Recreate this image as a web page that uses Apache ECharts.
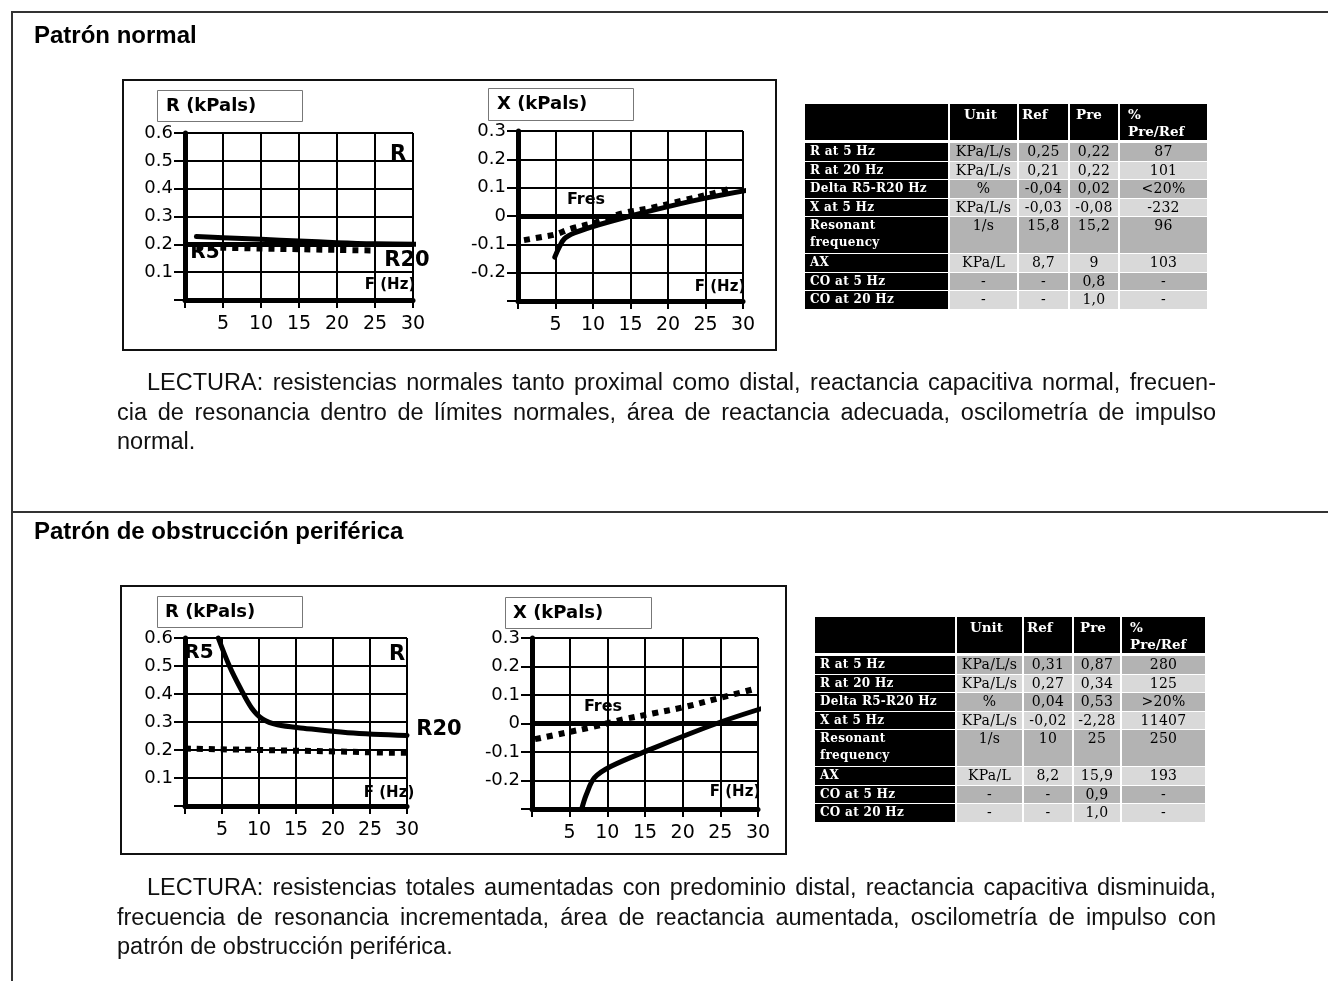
<!DOCTYPE html>
<html><head><meta charset="utf-8">
<script src="https://cdn.jsdelivr.net/npm/echarts@6/dist/echarts.min.js"></script>
<style>
html,body{margin:0;padding:0;background:#fff;}
#page{position:relative;width:1328px;height:981px;overflow:hidden;background:#fff;}
#chart{position:absolute;left:0;top:0;width:1328px;height:981px;}
.hl{position:absolute;background:#333;}
.title{position:absolute;left:34px;font:bold 24px "Liberation Sans",Arial,sans-serif;color:#000;line-height:30px;white-space:nowrap}
.para{position:absolute;left:117px;width:1099px;font:23.5px "Liberation Sans",Arial,sans-serif;color:#111;line-height:29.5px}
.line{display:flex;justify-content:space-between;white-space:nowrap;height:29.5px}
.line.indent{margin-left:30px}
.line.last{display:block}
table.t{position:absolute;border-collapse:separate;border-spacing:2px 1px;table-layout:fixed;font-family:"DejaVu Serif",serif}
table.t th{background:#000;color:#fff;font-weight:bold;font-size:13.5px;text-align:left;vertical-align:top;padding:2px 0 0 0;height:34px;line-height:17px;border-bottom:2px solid #fff;white-space:pre-line}
table.t td.lab{background:#000;color:#fff;font-weight:bold;font-size:12px;letter-spacing:0.3px;padding:0 0 0 5px;text-align:left;white-space:pre-line;line-height:17px;overflow:hidden}
table.t td.v{text-align:center;font-size:14px;letter-spacing:0.3px;color:#000;padding:0;line-height:17px;white-space:nowrap}
table.t tr.r td{height:17.5px;vertical-align:middle}
table.t tr.rr td{height:36px;vertical-align:top}
</style>
</head>
<body>
<div id="page">
  <div id="chart"></div>
  <div class="hl" style="left:11px;top:11px;width:1317px;height:1.5px"></div>
  <div class="hl" style="left:11px;top:11px;width:1.5px;height:970px"></div>
  <div class="hl" style="left:11px;top:511px;width:1317px;height:1.5px"></div>
  <div class="title" style="top:20px">Patrón normal</div>
  <div class="title" style="top:516px">Patrón de obstrucción periférica</div>
  <div class="para" id="p1" style="top:368px"></div>
  <div class="para" id="p2" style="top:873px"></div>
</div>
<script>
// ---------- data ----------
const freqMin = 0, freqMax = 30, freqStep = 5;
const rRange = [0, 0.6];
const xRange = [-0.3, 0.3];

const normalR_solid  = [[1.5,0.228],[5,0.224],[10,0.218],[15,0.212],[20,0.206],[25,0.202],[31,0.2]];
const normalR_dotted = [[1.5,0.19],[10,0.185],[20,0.18],[24.5,0.178]];
const normalR_ref    = [0.2];
const normalX_solid  = [[4.9,-0.145],[5.5,-0.11],[6.2,-0.08],[7.5,-0.06],[10,-0.037],[15,0],[20,0.033],[25,0.063],[31.5,0.095]];
const normalX_dotted = [[0.8,-0.085],[3,-0.075],[5,-0.065],[7,-0.045],[10,-0.025],[14,0.01],[18,0.03],[22,0.055],[26,0.08],[28.7,0.1]];
const normalX_ref    = [0];

const periphR_solid  = [[4.5,0.6],[6,0.5],[7.5,0.42],[9,0.35],[10.5,0.31],[12.5,0.29],[16,0.278],[22,0.262],[30,0.252]];
const periphR_dotted = [[0,0.205],[10,0.2],[20,0.195],[30,0.19],[32,0.19]];
const periphX_solid  = [[6.6,-0.3],[7.2,-0.25],[8.3,-0.19],[10.5,-0.15],[15.8,-0.09],[21,-0.035],[26,0.014],[31.4,0.06]];
const periphX_dotted = [[0.4,-0.055],[4,-0.035],[7.9,-0.013],[12.2,0.015],[16,0.035],[20.1,0.057],[25,0.09],[29.8,0.123]];
const periphX_ref    = [0];

const tableHeader = ['', 'Unit', 'Ref', 'Pre', '%\nPre/Ref'];
const rowLabels = ['R at 5 Hz','R at 20 Hz','Delta R5-R20 Hz','X at 5 Hz','Resonant\nfrequency','AX','CO at 5 Hz','CO at 20 Hz'];
const units     = ['KPa/L/s','KPa/L/s','%','KPa/L/s','1/s','KPa/L','-','-'];
const normalRef = ['0,25','0,21','-0,04','-0,03','15,8','8,7','-','-'];
const normalPre = ['0,22','0,22','0,02','-0,08','15,2','9','0,8','1,0'];
const normalPct = ['87','101','<20%','-232','96','103','-','-'];
const periphRef = ['0,31','0,27','0,04','-0,02','10','8,2','-','-'];
const periphPre = ['0,87','0,34','0,53','-2,28','25','15,9','0,9','1,0'];
const periphPct = ['280','125','>20%','11407','250','193','-','-'];

const para1 = [
  'LECTURA: resistencias normales tanto proximal como distal, reactancia capacitiva normal, frecuen-',
  'cia de resonancia dentro de límites normales, área de reactancia adecuada, oscilometría de impulso',
  'normal.'
];
const para2 = [
  'LECTURA: resistencias totales aumentadas con predominio distal, reactancia capacitiva disminuida,',
  'frecuencia de resonancia incrementada, área de reactancia aumentada, oscilometría de impulso con',
  'patrón de obstrucción periférica.'
];

// ---------- paragraphs ----------
function buildPara(id, lines){
  const el = document.getElementById(id);
  lines.forEach((ln, i) => {
    const d = document.createElement('div');
    d.className = 'line' + (i === 0 ? ' indent' : '') + (i === lines.length - 1 ? ' last' : '');
    if (i === lines.length - 1) { d.textContent = ln; }
    else ln.split(' ').forEach(w => { const s = document.createElement('span'); s.textContent = w; d.appendChild(s); });
    el.appendChild(d);
  });
}
buildPara('p1', para1);
buildPara('p2', para2);

// ---------- tables ----------
function buildTable(left, top, widths, hpad, ref, pre, pct){
  const t = document.createElement('table');
  t.className = 't';
  t.style.left = (left - 2) + 'px';
  t.style.top = (top - 1) + 'px';
  const cg = document.createElement('colgroup');
  widths.forEach(w => { const c = document.createElement('col'); c.style.width = w + 'px'; cg.appendChild(c); });
  t.appendChild(cg);
  const hr = document.createElement('tr');
  tableHeader.forEach((h, j) => { const th = document.createElement('th'); th.textContent = h; th.style.paddingLeft = hpad[j] + 'px'; hr.appendChild(th); });
  t.appendChild(hr);
  rowLabels.forEach((lab, i) => {
    const tr = document.createElement('tr');
    tr.className = lab.indexOf('\n') >= 0 ? 'rr' : 'r';
    const bg = i % 2 === 0 ? '#b3b3b3' : '#d9d9d9';
    const l = document.createElement('td'); l.className = 'lab'; l.textContent = lab; tr.appendChild(l);
    [units[i], ref[i], pre[i], pct[i]].forEach(v => { const td = document.createElement('td'); td.className = 'v'; td.style.background = bg; td.textContent = v; tr.appendChild(td); });
    t.appendChild(tr);
  });
  document.getElementById('page').appendChild(t);
}
buildTable(805, 104, [143,67,49,48,87], [0,14,3,6,8], normalRef, normalPre, normalPct);
buildTable(815, 617, [140,65,48,46,83], [0,13,3,6,8], periphRef, periphPre, periphPct);

// ---------- charts ----------
const grids = [[185,133,228,167],[518,131,225,170],[185,638,222,168],[532,638,226,171]];
function xAx(i){
  return {gridIndex:i,type:'value',min:freqMin,max:freqMax,interval:freqStep,
    axisLine:{show:true,onZero:false,lineStyle:{color:'#000',width:5}},
    axisTick:{show:true,length:8,lineStyle:{color:'#000',width:2}},
    axisLabel:{show:true,color:'#000',fontSize:19,fontFamily:'DejaVu Sans',margin:15,formatter:v=> v===0?'':String(v)},
    splitLine:{show:true,lineStyle:{color:'#000',width:2}}};
}
function yAx(i, rng, hideZero){
  return {gridIndex:i,type:'value',min:rng[0],max:rng[1],interval:0.1,
    axisLine:{show:true,onZero:false,lineStyle:{color:'#000',width:5}},
    axisTick:{show:true,length:11,lineStyle:{color:'#000',width:2}},
    axisLabel:{color:'#000',fontSize:18,fontFamily:'DejaVu Sans',margin:12,formatter:v=>{
      const r = Math.round(v*10)/10;
      if (Math.abs(r - rng[0]) < 1e-6) return '';
      if (r === 0) return hideZero ? '' : '0';
      return r.toFixed(1);
    }},
    splitLine:{show:true,lineStyle:{color:'#000',width:2}}};
}
function ln(i, data, dotted, refs){
  const s = {type:'line',xAxisIndex:i,yAxisIndex:i,data:data,symbol:'none',smooth:0.35,clip:false,silent:true,z:5,
    lineStyle: dotted ? {color:'#000',width:6,type:[6,6],cap:'butt'} : {color:'#000',width:5,cap:'round',join:'round'}};
  if (refs) s.markLine = {silent:true,symbol:['none','none'],label:{show:false},lineStyle:{color:'#000',width:5,type:'solid'},data:refs.map(v=>({yAxis:v}))};
  return s;
}
const bold = s => 'bold ' + s + 'px "DejaVu Sans"';
function txt(t, x, y, size, align){ return {type:'text',x:x,y:y,z:100,style:{text:t,font:bold(size),fill:'#000',align:align||'center',verticalAlign:'middle'}}; }
function box(x, y, w, h){ return {type:'rect',z:90,shape:{x:x,y:y,width:w,height:h},style:{fill:'#fff',stroke:'#777',lineWidth:1}}; }
function frame(x, y, w, h){ return {type:'rect',z:80,shape:{x:x,y:y,width:w,height:h},style:{fill:'none',stroke:'#111',lineWidth:2}}; }

const chart = echarts.init(document.getElementById('chart'), null, {renderer:'canvas'});
chart.setOption({
  animation:false,
  backgroundColor:'#fff',
  grid: grids.map(g=>({left:g[0],top:g[1],width:g[2],height:g[3]})),
  xAxis:[xAx(0),xAx(1),xAx(2),xAx(3)],
  yAxis:[yAx(0,rRange,true),yAx(1,xRange,false),yAx(2,rRange,true),yAx(3,xRange,false)],
  series:[
    ln(0, normalR_solid, false, normalR_ref),
    ln(0, normalR_dotted, true),
    ln(1, normalX_solid, false, normalX_ref),
    ln(1, normalX_dotted, true),
    ln(2, periphR_solid, false),
    ln(2, periphR_dotted, true),
    ln(3, periphX_solid, false, periphX_ref),
    ln(3, periphX_dotted, true)
  ],
  graphic:[
    frame(123,80,653,270),
    frame(121,586,665,268),
    box(157.5,90.5,145,31), txt('R (kPals)',166,106,18,'left'),
    box(488.5,88.5,145,32), txt('X (kPals)',497,104,18,'left'),
    box(157.5,596.5,145,31), txt('R (kPals)',165,612,18,'left'),
    box(505.5,597.5,146,31), txt('X (kPals)',513,613,18,'left'),
    txt('R',398,155,21), txt('R5',205,253,20), txt('R20',407,261,21), txt('F (Hz)',390,285,15),
    txt('Fres',586,200,16), txt('F (Hz)',720,287,15),
    txt('R5',199,653,20), txt('R',397,655,21), txt('R20',439,730,21), txt('F (Hz)',389,793,15),
    txt('Fres',603,707,16), txt('F (Hz)',735,792,15)
  ]
});
</script>
</body></html>
